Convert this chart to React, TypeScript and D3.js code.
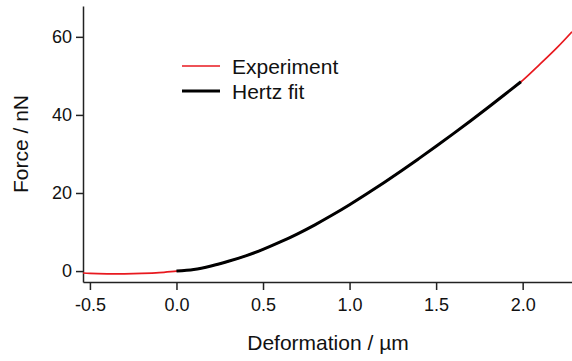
import { useEffect, useRef } from 'react';
import * as d3 from 'd3';

const WIDTH = 572;
const HEIGHT = 361;
const MARGIN = { top: 6, right: 0, bottom: 79, left: 83 };
const FONT = 'Liberation Sans, Arial, sans-serif';

// deformation (µm) and force (nN)
const expDeformation = [-0.54, -0.5, -0.4, -0.3, -0.2, -0.1, 0.0, 0.1, 0.2, 0.3, 0.4, 0.5, 0.6, 0.7, 0.8, 0.9, 1.0, 1.1, 1.2, 1.3, 1.4, 1.5, 1.6, 1.7, 1.8, 1.9, 2.0, 2.1, 2.2, 2.285];
const expForce = [-0.5, -0.6, -0.7, -0.7, -0.6, -0.4, 0.0, 0.4, 1.3, 2.5, 3.9, 5.55, 7.45, 9.55, 11.85, 14.35, 17.0, 19.8, 22.7, 25.7, 28.8, 31.95, 35.2, 38.5, 41.9, 45.35, 48.85, 53.0, 57.3, 61.3];

const fitDeformation = [0.0, 0.1, 0.2, 0.3, 0.4, 0.5, 0.6, 0.7, 0.8, 0.9, 1.0, 1.1, 1.2, 1.3, 1.4, 1.5, 1.6, 1.7, 1.8, 1.9, 1.99];
const fitForce = [0.0, 0.4, 1.3, 2.5, 3.9, 5.55, 7.45, 9.55, 11.85, 14.35, 17.0, 19.8, 22.7, 25.7, 28.8, 31.95, 35.2, 38.5, 41.9, 45.35, 48.5];

const xTicks = [-0.5, 0.0, 0.5, 1.0, 1.5, 2.0];
const yTicks = [0, 20, 40, 60];

const legendItems = [
  { label: 'Experiment', color: '#e8191f', width: 1.7 },
  { label: 'Hertz fit', color: '#000000', width: 3 },
];

export default function App() {
  const ref = useRef<SVGGElement>(null);
  const boundsWidth = WIDTH - MARGIN.left - MARGIN.right;
  const boundsHeight = HEIGHT - MARGIN.top - MARGIN.bottom;

  const xScale = d3.scaleLinear().domain([-0.54, 2.285]).range([0, boundsWidth]);
  const yScale = d3.scaleLinear().domain([-2.8, 67.9]).range([boundsHeight, 0]);

  useEffect(() => {
    const g = d3.select(ref.current);
    g.selectAll('*').remove();

    const xAxis = g
      .append('g')
      .attr('transform', `translate(0,${boundsHeight})`)
      .call(
        d3
          .axisBottom(xScale)
          .tickValues(xTicks)
          .tickFormat((d) => (d as number).toFixed(1))
          .tickSize(8)
          .tickSizeOuter(0)
      );
    const yAxis = g
      .append('g')
      .call(d3.axisLeft(yScale).tickValues(yTicks).tickSize(7).tickSizeOuter(0));

    [xAxis, yAxis].forEach((a) => {
      a.select('.domain').attr('stroke', '#222').attr('stroke-width', 1.5);
      a.selectAll('.tick line').attr('stroke', '#222').attr('stroke-width', 1.5);
      a.selectAll('.tick text')
        .attr('fill', '#111')
        .style('font-family', FONT)
        .style('font-size', '18px');
    });
    xAxis.selectAll('.tick text').attr('dy', '1em');
    yAxis.selectAll('.tick text').attr('x', -11);

    const line = d3
      .line<[number, number]>()
      .x((d) => xScale(d[0]))
      .y((d) => yScale(d[1]))
      .curve(d3.curveCatmullRom);

    const expData = expDeformation.map((d, i) => [d, expForce[i]] as [number, number]);
    const fitData = fitDeformation.map((d, i) => [d, fitForce[i]] as [number, number]);

    g.append('path').attr('d', line(expData)).attr('fill', 'none').attr('stroke', legendItems[0].color).attr('stroke-width', legendItems[0].width);
    g.append('path').attr('d', line(fitData)).attr('fill', 'none').attr('stroke', legendItems[1].color).attr('stroke-width', legendItems[1].width);
  }, []);

  return (
    <svg width={WIDTH} height={HEIGHT} style={{ position: 'absolute', left: 0, top: 0, background: '#fff' }}>
      <g ref={ref} transform={`translate(${MARGIN.left},${MARGIN.top})`} />
      {legendItems.map((item, i) => (
        <g key={item.label} transform={`translate(182,${66 + i * 25})`}>
          <line x1={0} x2={38} y1={0} y2={0} stroke={item.color} strokeWidth={item.width} />
          <text x={50} y={7.5} fontSize={21} fontFamily={FONT} fill="#111">
            {item.label}
          </text>
        </g>
      ))}
      <text x={328} y={350} textAnchor="middle" fontSize={21} fontFamily={FONT} fill="#111">
        Deformation / µm
      </text>
      <text transform="translate(28,144) rotate(-90)" textAnchor="middle" fontSize={21} fontFamily={FONT} fill="#111">
        Force / nN
      </text>
    </svg>
  );
}
